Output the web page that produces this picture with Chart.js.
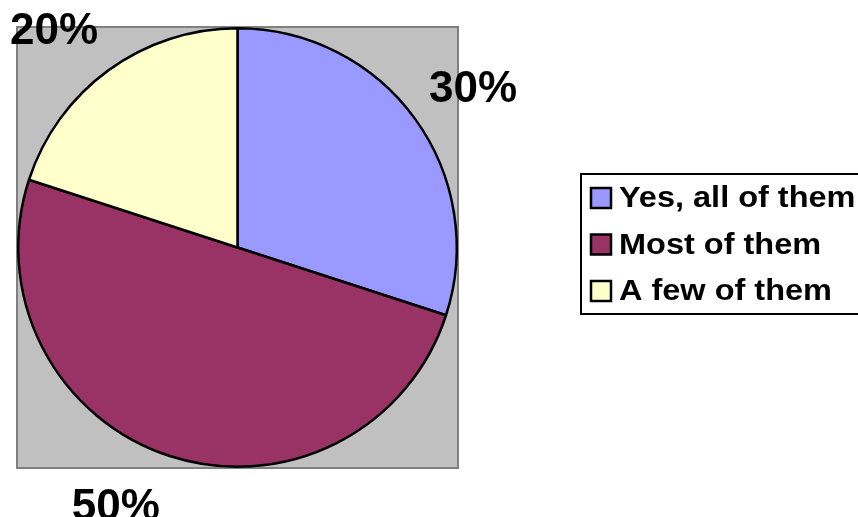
<!DOCTYPE html>
<html lang="en">
<head>
    <meta charset="utf-8">
    <title>Pie</title>
    <script src="https://cdn.jsdelivr.net/npm/chart.js"></script>
    <style>
        html, body { margin: 0; padding: 0; background: #fff; overflow: hidden; }
        canvas { display: block; }
    </style>
</head>
<body>
<canvas id="myChart" width="858" height="517"></canvas>
<script>
    const categories = ["Yes, all of them", "Most of them", "A few of them"];
    const shares = [30, 50, 20];
    const percentLabels = ["30%", "50%", "20%"];
    const sliceColors = ['#9999FF', '#993366', '#FFFFCC'];

    const FONT = '"Liberation Sans", Arial, sans-serif';

    // grey plot square behind the pie
    const plotBack = {
        id: 'plotBack',
        beforeDatasetsDraw(chart) {
            const a = chart.chartArea;
            const ctx = chart.ctx;
            ctx.save();
            ctx.fillStyle = '#C0C0C0';
            ctx.fillRect(a.left, a.top, a.right - a.left, a.bottom - a.top);
            ctx.strokeStyle = '#808080';
            ctx.lineWidth = 2;
            ctx.strokeRect(a.left, a.top, a.right - a.left, a.bottom - a.top);
            ctx.restore();
        }
    };

    // percentage labels outside the slices (Excel moves them a bit, hence nudges)
    const labelDist = 290;
    const labelNudge = [[1, 13], [-32, -15], [-13, 19]];
    const pctLabels = {
        id: 'pctLabels',
        afterDatasetsDraw(chart) {
            const ctx = chart.ctx;
            const arcs = chart.getDatasetMeta(0).data;
            ctx.save();
            ctx.font = 'bold 44px ' + FONT;
            ctx.fillStyle = '#000';
            ctx.textAlign = 'center';
            ctx.textBaseline = 'middle';
            arcs.forEach((arc, i) => {
                const mid = (arc.startAngle + arc.endAngle) / 2;
                const x = arc.x + Math.cos(mid) * labelDist + labelNudge[i][0];
                const y = arc.y + Math.sin(mid) * labelDist + labelNudge[i][1];
                ctx.fillText(percentLabels[i], x, y);
            });
            ctx.restore();
        }
    };

    // boxed legend on the right
    const boxLegend = {
        id: 'boxLegend',
        afterDraw(chart) {
            const ctx = chart.ctx;
            const left = 581, top = 174, bottom = 314;
            ctx.save();
            ctx.fillStyle = '#fff';
            ctx.fillRect(left, top, chart.width - left + 10, bottom - top);
            ctx.strokeStyle = '#000';
            ctx.lineWidth = 2;
            ctx.strokeRect(left, top, chart.width - left + 10, bottom - top);
            ctx.textBaseline = 'middle';
            ctx.textAlign = 'left';
            categories.forEach((name, i) => {
                const cy = 198 + i * 46.5;
                ctx.fillStyle = sliceColors[i];
                ctx.fillRect(591, cy - 10, 20, 20);
                ctx.strokeStyle = '#000';
                ctx.lineWidth = 2.5;
                ctx.strokeRect(591, cy - 10, 20, 20);
                ctx.save();
                ctx.translate(619, cy + 1);
                ctx.scale(1.12, 1);
                ctx.font = 'bold 29px ' + FONT;
                ctx.fillStyle = '#000';
                ctx.fillText(name, 0, 0);
                ctx.restore();
            });
            ctx.restore();
        }
    };

    new Chart(document.getElementById('myChart'), {
        type: 'pie',
        data: {
            labels: categories,
            datasets: [{
                data: shares,
                backgroundColor: sliceColors,
                borderColor: '#000',
                borderWidth: 2.5
            }]
        },
        options: {
            responsive: false,
            animation: false,
            layout: { padding: { left: 17, top: 27, right: 400, bottom: 49 } },
            plugins: {
                legend: { display: false },
                tooltip: { enabled: false }
            }
        },
        plugins: [plotBack, pctLabels, boxLegend]
    });
</script>
</body>
</html>
